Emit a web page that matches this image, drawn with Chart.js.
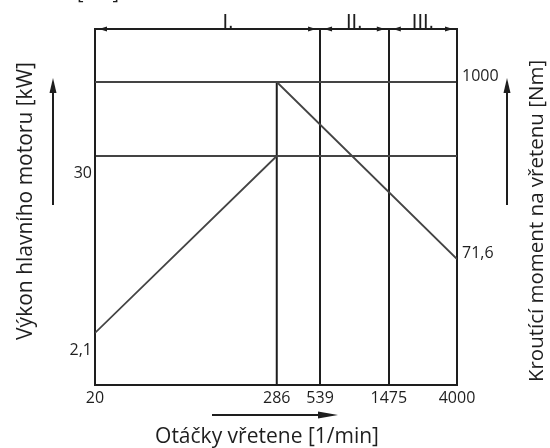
<!DOCTYPE html>
<html>
<head>
<meta charset="utf-8">
<script src="https://cdn.jsdelivr.net/npm/chart.js@4.4.1/dist/chart.umd.min.js"></script>
<style>
  html, body { margin: 0; padding: 0; background: #fff; }
  #wrap { width: 550px; height: 448px; }
</style>
</head>
<body>
<div id="wrap"><canvas id="c" width="550" height="448"></canvas></div>
<script>
// spindle speed ticks [1/min] and zone boundaries
const speedTicks = [20, 286, 539, 1475, 4000];
const zoneBounds = [20, 539, 1475, 4000];
const zoneNames = ["I.", "II.", "III."];
const zoneLabelAt = [140, 890, 2430];

// power [kW] (left axis)
const powerSpeed = [20, 286, 4000];
const powerValues = [2.1, 30, 30];
const powerTicks = [2.1, 30];

// torque [Nm] (right axis)
const torqueSpeed = [20, 286, 4000];
const torqueValues = [1000, 1000, 71.6];
const torqueTicks = [71.6, 1000];

// axis ranges (log)
const speedMin = 20, speedMax = 4000;
const powerMin = 0.961, powerMax = 202.2;
const torqueMin = 10.96, torqueMax = 2202;

const titleX = "Otáčky vřetene [1/min]";
const titleLeft = "Výkon hlavního motoru [kW]";
const titleRight = "Kroutící moment na vřetenu [Nm]";

const ink = "#1e1e1e";
const lineGray = "#444";
const fmt = (v) => String(v).replace(".", ",");
const toXY = (xs, ys) => xs.map((x, i) => ({ x: x, y: ys[i] }));

// arrows, axis titles and the cut-off text at the very top
const decor = {
  id: "decor",
  afterDraw(chart) {
    const ctx = chart.ctx;
    const x = chart.scales.x;
    const top = chart.chartArea.top;
    ctx.save();
    ctx.fillStyle = ink;
    ctx.strokeStyle = ink;

    // dimension arrows on the top line
    for (let i = 0; i < zoneBounds.length - 1; i++) {
      const a = x.getPixelForValue(zoneBounds[i]);
      const b = x.getPixelForValue(zoneBounds[i + 1]);
      ctx.beginPath();
      ctx.moveTo(a + 4, top);
      ctx.lineTo(a + 12, top - 2.5);
      ctx.lineTo(a + 12, top + 2.5);
      ctx.closePath();
      ctx.fill();
      ctx.beginPath();
      ctx.moveTo(b - 4, top);
      ctx.lineTo(b - 12, top - 2.5);
      ctx.lineTo(b - 12, top + 2.5);
      ctx.closePath();
      ctx.fill();
    }

    // axis direction arrows
    function arrow(x1, y1, x2, y2, len, half) {
      const ang = Math.atan2(y2 - y1, x2 - x1);
      ctx.lineWidth = 2;
      ctx.beginPath();
      ctx.moveTo(x1, y1);
      ctx.lineTo(x2 - Math.cos(ang) * len * 0.8, y2 - Math.sin(ang) * len * 0.8);
      ctx.stroke();
      ctx.beginPath();
      ctx.moveTo(x2, y2);
      ctx.lineTo(x2 - Math.cos(ang) * len - Math.sin(ang) * half, y2 - Math.sin(ang) * len + Math.cos(ang) * half);
      ctx.lineTo(x2 - Math.cos(ang) * len + Math.sin(ang) * half, y2 - Math.sin(ang) * len - Math.cos(ang) * half);
      ctx.closePath();
      ctx.fill();
    }
    arrow(53, 205, 53, 78, 15, 3.5);
    arrow(507, 205, 507, 78, 15, 3.5);
    arrow(212, 415, 338, 415, 20, 3.5);

    // titles (both vertical ones read bottom to top)
    ctx.textAlign = "center";
    ctx.textBaseline = "middle";
    ctx.font = "21px 'Open Sans'";
    ctx.fillText(titleX, 267, 437);
    ctx.save();
    ctx.translate(26, 201);
    ctx.rotate(-Math.PI / 2);
    ctx.fillText(titleLeft, 0, 0);
    ctx.restore();
    ctx.save();
    ctx.font = "20.5px 'Open Sans'";
    ctx.translate(537, 221);
    ctx.rotate(-Math.PI / 2);
    ctx.fillText(titleRight, 0, 0);
    ctx.restore();

    ctx.font = "20px 'Open Sans'";
    ctx.textAlign = "left";
    ctx.textBaseline = "alphabetic";
    ctx.fillText("[kW]", 77, -1);
    ctx.restore();
  },
};

new Chart(document.getElementById("c"), {
  type: "scatter",
  data: {
    datasets: [
      {
        label: "Výkon",
        data: toXY(powerSpeed, powerValues),
        yAxisID: "yL",
        showLine: true,
        borderColor: lineGray,
        borderWidth: 1.8,
        pointRadius: 0,
      },
      {
        label: "Moment",
        data: toXY(torqueSpeed, torqueValues),
        yAxisID: "yR",
        showLine: true,
        borderColor: lineGray,
        borderWidth: 1.8,
        pointRadius: 0,
      },
      {
        label: "286",
        data: toXY([286, 286], [torqueMin, 1000]),
        yAxisID: "yR",
        showLine: true,
        borderColor: ink,
        borderWidth: 2,
        pointRadius: 0,
      },
    ],
  },
  options: {
    responsive: false,
    animation: false,
    devicePixelRatio: 1,
    layout: { padding: 0 },
    plugins: { legend: { display: false }, tooltip: { enabled: false } },
    scales: {
      x: {
        type: "logarithmic",
        position: "bottom",
        min: speedMin,
        max: speedMax,
        afterFit: (s) => { s.height = 63; },
        afterBuildTicks: (s) => { s.ticks = speedTicks.map((v) => ({ value: v })); },
        border: { display: true, color: ink, width: 2 },
        grid: {
          drawTicks: false,
          lineWidth: 2,
          color: (c) => (c.tick && (c.tick.value === 539 || c.tick.value === 1475) ? ink : "rgba(0,0,0,0)"),
        },
        ticks: {
          autoSkip: false,
          maxRotation: 0,
          padding: 4,
          color: ink,
          font: { family: "'Open Sans'", size: 16 },
          callback: (v) => fmt(v),
        },
      },
      xTop: {
        type: "logarithmic",
        position: "top",
        min: speedMin,
        max: speedMax,
        afterFit: (s) => { s.height = 29; },
        afterBuildTicks: (s) => { s.ticks = zoneLabelAt.map((v) => ({ value: v })); },
        border: { display: true, color: ink, width: 2 },
        grid: { display: false, drawTicks: false },
        ticks: {
          autoSkip: false,
          maxRotation: 0,
          padding: -5,
          color: ink,
          font: { family: "'Liberation Sans'", size: 20 },
          callback: (v, i) => zoneNames[i],
        },
      },
      yL: {
        type: "logarithmic",
        position: "left",
        min: powerMin,
        max: powerMax,
        afterFit: (s) => { s.width = 95; },
        afterBuildTicks: (s) => { s.ticks = powerTicks.map((v) => ({ value: v })); },
        border: { display: true, color: ink, width: 2 },
        grid: {
          drawTicks: false,
          lineWidth: 2,
          color: (c) => (c.tick && c.tick.value === 30 ? lineGray : "rgba(0,0,0,0)"),
        },
        ticks: {
          padding: 3,
          labelOffset: 17,
          color: ink,
          font: { family: "'Open Sans'", size: 16 },
          callback: (v) => fmt(v),
        },
      },
      yR: {
        type: "logarithmic",
        position: "right",
        min: torqueMin,
        max: torqueMax,
        afterFit: (s) => { s.width = 93; },
        afterBuildTicks: (s) => { s.ticks = torqueTicks.map((v) => ({ value: v })); },
        border: { display: true, color: ink, width: 2 },
        grid: {
          drawTicks: false,
          lineWidth: 2,
          color: (c) => (c.tick && c.tick.value === 1000 ? lineGray : "rgba(0,0,0,0)"),
        },
        ticks: {
          padding: 5,
          labelOffset: -6,
          color: ink,
          font: { family: "'Open Sans'", size: 16 },
          callback: (v) => fmt(v),
        },
      },
    },
  },
  plugins: [decor],
});
</script>
</body>
</html>
